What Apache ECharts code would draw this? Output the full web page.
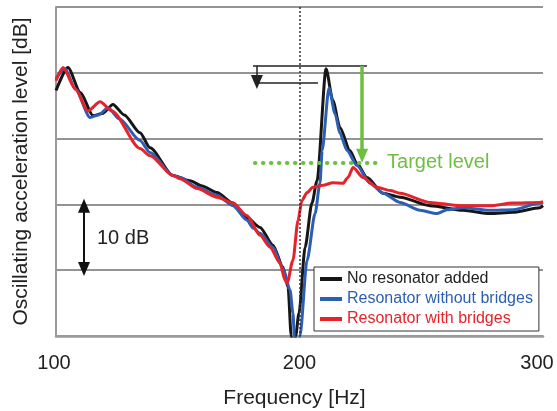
<!DOCTYPE html>
<html lang="en">
  <head>
    <meta charset="UTF-8" />
    <title>Oscillating acceleration level</title>
    <script src="https://cdn.jsdelivr.net/npm/echarts@6/dist/echarts.min.js"></script>
    <style>
      html, body { margin: 0; padding: 0; background: #fff; }
      .echarts { width: 557px; height: 411px; }
    </style>
  </head>
  <body>
    <div class="echarts"></div>
    <script>
      // frequency [Hz], level [dB, relative]
      const noResonator = [
        [100, 37.3], [104.9, 40.8], [110, 37], [115.2, 33.5], [119, 33.8], [123.4, 35.2], [128, 33.6],
        [134.5, 30.9], [138.6, 28.6], [148, 24.4], [155, 23.6], [160, 22.8], [166.1, 21.8],
        [172.7, 20.2], [178.4, 18], [183.8, 16.5], [189.1, 13.8], [193.2, 10.5], [195.3, 7.4],
        [196.6, 0], [197.5, -5], [198.4, 0], [199.8, 3.5], [202.3, 13.5], [205.1, 20.2],
        [207.2, 23.6], [210.9, 40.6], [213.7, 35.8], [216.6, 31.7], [220.7, 28.2], [223.6, 26.2],
        [227.7, 24.1], [234.3, 21.7], [241.3, 21.1], [253.6, 19.8], [267.1, 19.1], [278.2, 18.6],
        [287.7, 18.8], [298.8, 19.5], [300, 19.8]
      ];
      const withoutBridges = [
        [100, 39.1], [103.7, 40.6], [108, 37.5], [114, 33.2], [117.5, 33.6], [121.4, 34.7], [126, 33],
        [134.5, 29.7], [138.6, 27.9], [148, 24.4], [150.9, 24.1], [158, 22.6], [166.1, 21.4],
        [172.7, 19.8], [178.4, 17.6], [181, 16.4], [183.8, 15.6], [189.1, 13.5], [193.2, 10.3],
        [196.1, 7], [197.3, 3.5], [197.9, 0], [199, -5], [200.2, 0], [203.1, 11.5], [206.4, 18.6],
        [208.4, 23.2], [209.3, 28.2], [212.1, 37.7], [214.6, 33.8], [216.6, 30.8], [219.5, 28.2],
        [223.6, 25.9], [229, 23.2], [234.3, 21.7], [241.3, 20.3], [249.5, 19.1], [256.5, 18.6],
        [260.6, 19.2], [267.1, 19.5], [278.2, 19.1], [287.7, 19.2], [298.8, 20.2], [300, 20.3]
      ];
      const withBridges = [
        [100, 38.8], [102.9, 40.8], [108, 37.5], [113.1, 34.2], [118.1, 35.6], [123, 34.2],
        [134.5, 28.5], [138.6, 27.4], [148, 24.4], [150.9, 23.9], [158, 22.4], [166.1, 21.1],
        [172.7, 20.2], [178.4, 18.3], [183.8, 15.3], [187.9, 13.5], [192, 11.1], [194, 8.5],
        [194.9, 8], [197.3, 11.5], [199.4, 17.6], [201, 20.6], [203.1, 21.8], [205.5, 22.6],
        [209.7, 22.9], [213.7, 23.3], [217.9, 23.2], [219.9, 24.1], [222, 25.6], [226.1, 24.1],
        [231.8, 22.6], [237.2, 22.1], [241.3, 21.7], [253.6, 20.3], [265.9, 19.8], [278.2, 19.8],
        [287.7, 20.2], [298.8, 20.3], [300, 20.4]
      ];
      const seriesNames = ['No resonator added', 'Resonator without bridges', 'Resonator with bridges'];
      const xTicks = [100, 200, 300];
      const targetLevel = 26.4;

      const colors = ['#161616', '#2c5fb3', '#e5232b'];
      const green = '#6cbf3f';

      const chart = echarts.init(document.querySelector('.echarts'), null, { renderer: 'canvas' });

      const lineSeries = (name, data, color) => ({
        name, type: 'line', data,
        showSymbol: false, smooth: 0.25, smoothMonotone: 'x',
        lineStyle: { color, width: 3 }, itemStyle: { color },
        z: 3
      });

      // annotation segment in data coordinates
      const noteLine = (from, to, style, symbols) => {
        const s = symbols || ['none', 'none'];
        return [
          { coord: from, symbol: s[0], lineStyle: style },
          { coord: to, symbol: s[1] }
        ];
      };

      const option = {
        animation: false,
        textStyle: { fontFamily: 'Liberation Sans, Arial, sans-serif' },
        grid: { left: 56, right: 14, top: 7, bottom: 75, outerBoundsMode: 'none', containLabel: false },
        xAxis: {
          type: 'value', min: xTicks[0], max: xTicks[2], interval: 100,
          name: 'Frequency [Hz]', nameLocation: 'middle', nameGap: 52,
          nameTextStyle: { fontSize: 21, color: '#222', padding: [0, 10, 0, 0] },
          axisLine: { show: true, lineStyle: { color: '#9a9a9a', width: 2.5 } },
          axisTick: { show: false },
          splitLine: { show: false },
          axisLabel: {
            fontSize: 20, color: '#222', margin: 17,
            formatter: v => (v === 300 ? '{r|300}' : v === 100 ? '{l|100}' : String(v)),
            rich: {
              r: { fontSize: 20, color: '#222', padding: [0, 12, 0, 0] },
              l: { fontSize: 20, color: '#222', padding: [0, 4, 0, 0] }
            }
          }
        },
        yAxis: {
          type: 'value', min: 0, max: 50, interval: 10,
          name: 'Oscillating acceleration level [dB]', nameLocation: 'middle', nameGap: 24,
          nameTextStyle: { fontSize: 21, color: '#222' },
          axisLine: { show: true, lineStyle: { color: '#9a9a9a', width: 2 } },
          axisTick: { show: false },
          axisLabel: { show: false },
          splitLine: { show: true, lineStyle: { color: '#707070', width: 1.5 } }
        },
        legend: {
          orient: 'vertical', left: 314, top: 267,
          padding: [4, 6, 4, 6], itemGap: 4,
          itemWidth: 22, itemHeight: 4, icon: 'rect',
          backgroundColor: '#fff', borderColor: '#333', borderWidth: 1,
          textStyle: { fontSize: 16 },
          data: seriesNames.map((n, i) => ({ name: n, textStyle: { color: i === 0 ? '#222' : colors[i] } }))
        },
        series: [
          Object.assign(lineSeries(seriesNames[0], noResonator, colors[0]), {
            markLine: {
              silent: true, animation: false, z: 4,
              symbolSize: [12, 14],
              label: { show: false },
              data: [
                // vertical reference at 200 Hz
                noteLine([200, 50], [200, 0], { color: '#333', width: 1.5, type: [2, 2] }),
                // peak level lines
                noteLine([180.9, 41.06], [227.7, 41.06], { color: '#222', width: 1.5, type: 'solid' }),
                noteLine([182.5, 38.5], [207.6, 38.5], { color: '#222', width: 1.5, type: 'solid' }),
                noteLine([182.5, 41.06], [182.5, 38.6], { color: '#222', width: 1.5, type: 'solid' }, ['none', 'triangle']),
                // 10 dB scale arrow
                noteLine([111.5, 19.8], [111.5, 10.2], { color: '#111', width: 2, type: 'solid' }, ['triangle', 'triangle']),
                // green reduction arrow
                noteLine([225.7, 41.06], [225.7, 27.4], { color: green, width: 3.5, type: 'solid' }, ['none', 'triangle'])
              ]
            }
          }),
          lineSeries(seriesNames[1], withoutBridges, colors[1]),
          Object.assign(lineSeries(seriesNames[2], withBridges, colors[2]), {
            markLine: {
              silent: true, animation: false, symbol: ['none', 'none'],
              label: {
                show: true, position: 'end', formatter: 'Target level',
                color: green, fontSize: 20, distance: 5
              },
              data: [
                [
                  { coord: [181.7, targetLevel], lineStyle: { color: green, width: 4, type: [0.5, 7.5], cap: 'round' } },
                  { coord: [233.9, targetLevel] }
                ]
              ]
            }
          })
        ],
        graphic: [
          {
            type: 'text', left: 97, top: 228,
            style: { text: '10 dB', fontSize: 20, fill: '#222', fontFamily: 'Liberation Sans, Arial, sans-serif' }
          }
        ]
      };
      chart.setOption(option);
    </script>
  </body>
</html>
